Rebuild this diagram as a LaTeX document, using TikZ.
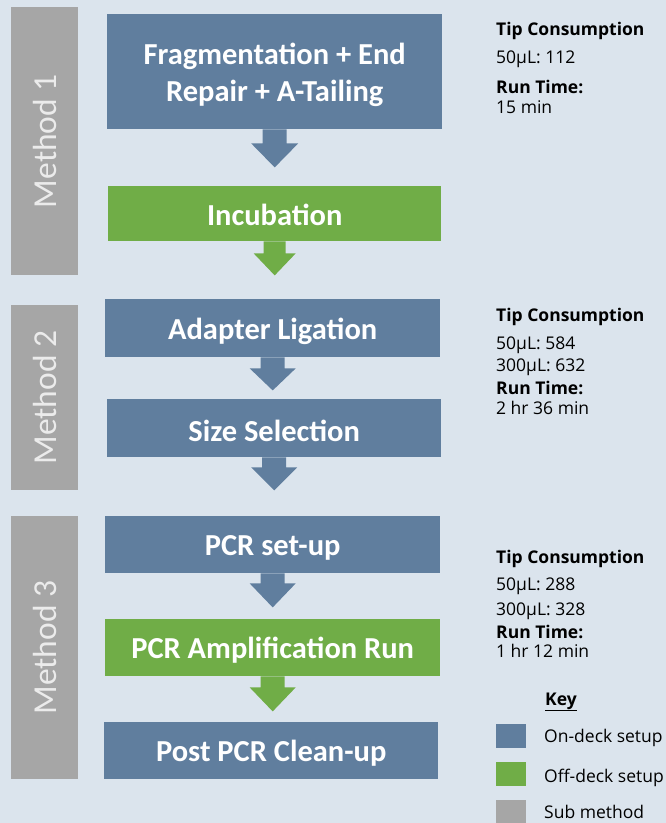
\documentclass[tikz,border=0pt]{standalone}
\usepackage{fontspec}
\setmainfont{Open Sans}
\newfontfamily\boxfont{Carlito}
\usetikzlibrary{calc}
\definecolor{bg}{RGB}{219,228,237}
\definecolor{bluebox}{RGB}{96,126,158}
\definecolor{greenbox}{RGB}{112,173,71}
\definecolor{graybar}{RGB}{166,166,166}
\definecolor{methodtxt}{RGB}{235,235,235}
\tikzset{
  stepbox/.style={draw=none, inner sep=0pt, anchor=north west},
  onbox/.style={stepbox, fill=bluebox},
  offbox/.style={stepbox, fill=greenbox},
  steptxt/.style={inner sep=0pt, text=white, align=center,
    font=\boxfont\bfseries\fontsize{30.5}{37}\selectfont},
  methodbar/.style={fill=graybar, draw=none, inner sep=0pt, anchor=north west,
    minimum width=67pt},
  methodlbl/.style={rotate=90, text=methodtxt, inner sep=0pt,
    font=\boxfont\fontsize{33.5}{40}\selectfont},
  infotxt/.style={anchor=base west, inner sep=0pt, font=\fontsize{17.5}{20}\selectfont},
  infobold/.style={infotxt, font=\bfseries\fontsize{17.5}{20}\selectfont},
  keysq/.style={anchor=north west, inner sep=0pt, minimum width=30pt, minimum height=24pt, draw=none},
}
\newcommand{\blockarrow}[5]{% from node, color, shaft halfwidth, head halfwidth, head start
  \fill[#2] ($(#1.south)+(-#3,0)$) -- ($(#1.south)+(-#3,#5)$) -- ($(#1.south)+(-#4,#5)$)
     -- ($(#1.south)+(0,\arrowtip)$) -- ($(#1.south)+(#4,#5)$) -- ($(#1.south)+(#3,#5)$)
     -- ($(#1.south)+(#3,0)$) -- cycle;}
\begin{document}
\begin{tikzpicture}[x=1pt,y=-1pt]
\useasboundingbox[fill=bg] (0,0) rectangle (666,823);
% method bars
\node[methodbar, minimum height=268pt] (m1) at (11,7) {};
\node[methodlbl] (m1t) at (m1.center) {Method 1};
\node[methodbar, minimum height=185pt] (m2) at (11,305) {};
\node[methodlbl] (m2t) at (m2.center) {Method 2};
\node[methodbar, minimum height=263pt] (m3) at (11,516) {};
\node[methodlbl] (m3t) at (m3.center) {Method 3};
% step boxes
\node[onbox, minimum width=335pt, minimum height=115pt] (b1) at (107,14) {};
\node[steptxt] (b1t) at ($(b1.center)+(0,3.5)$) {Fragmentation + End\\Repair + A-Tailing};
\node[offbox, minimum width=333pt, minimum height=55pt] (b2) at (108,186) {};
\node[steptxt] (b2t) at ($(b2.center)+(0,1)$) {Incubation};
\node[onbox, minimum width=335pt, minimum height=58pt] (b3) at (105,299) {};
\node[steptxt] (b3t) at ($(b3.center)+(0,3.5)$) {Adapter Ligation};
\node[onbox, minimum width=334pt, minimum height=58pt] (b4) at (107,399) {};
\node[steptxt] (b4t) at ($(b4.center)+(0,2.5)$) {Size Selection};
\node[onbox, minimum width=335pt, minimum height=57pt] (b5) at (105,516) {};
\node[steptxt] (b5t) at ($(b5.center)+(0,3)$) {PCR set-up};
\node[offbox, minimum width=335pt, minimum height=57pt] (b6) at (105,619) {};
\node[steptxt] (b6t) at ($(b6.center)+(0,2)$) {PCR Amplification Run};
\node[onbox, minimum width=334pt, minimum height=57pt] (b7) at (104,722) {};
\node[steptxt] (b7t) at ($(b7.center)+(0,2)$) {Post PCR Clean-up};
% arrows
\def\arrowtip{38}\blockarrow{b1}{bluebox}{12}{23.5}{14}
\def\arrowtip{34}\blockarrow{b2}{greenbox}{11}{21}{12}
\def\arrowtip{33}\blockarrow{b3}{bluebox}{12}{23}{11}
\def\arrowtip{33}\blockarrow{b4}{bluebox}{12}{23}{10}
\def\arrowtip{34}\blockarrow{b5}{bluebox}{12}{23}{10}
\def\arrowtip{35}\blockarrow{b6}{greenbox}{12}{23}{11}
% info text 1
\node[infobold] (t1a) at (496,35) {Tip Consumption};
\node[infotxt] (t1b) at (496,63) {50µL: 112};
\node[infobold] (t1c) at (496,93) {Run Time:};
\node[infotxt] (t1d) at (496,113) {15 min};
% info text 2
\node[infobold] (t2a) at (496,321) {Tip Consumption};
\node[infotxt] (t2b) at (496,349) {50µL: 584};
\node[infotxt] (t2c) at (496,371) {300µL: 632};
\node[infobold] (t2d) at (496,394) {Run Time:};
\node[infotxt] (t2e) at (496,414) {2 hr 36 min};
% info text 3
\node[infobold] (t3a) at (496,563) {Tip Consumption};
\node[infotxt] (t3b) at (496,590) {50µL: 288};
\node[infotxt] (t3c) at (496,615) {300µL: 328};
\node[infobold] (t3d) at (496,638) {Run Time:};
\node[infotxt] (t3e) at (496,657) {1 hr 12 min};
% key
\node[infobold] (key) at (545,705) {\underline{Key}};
\node[keysq, fill=bluebox] (k1) at (496,724) {};
\node[keysq, fill=greenbox] (k2) at (496,762) {};
\node[keysq, fill=graybar] (k3) at (496,800) {};
\node[infotxt] (k1t) at (544,742) {On-deck setup};
\node[infotxt] (k2t) at (544,782) {Off-deck setup};
\node[infotxt] (k3t) at (544,818) {Sub method};
\end{tikzpicture}
\end{document}
